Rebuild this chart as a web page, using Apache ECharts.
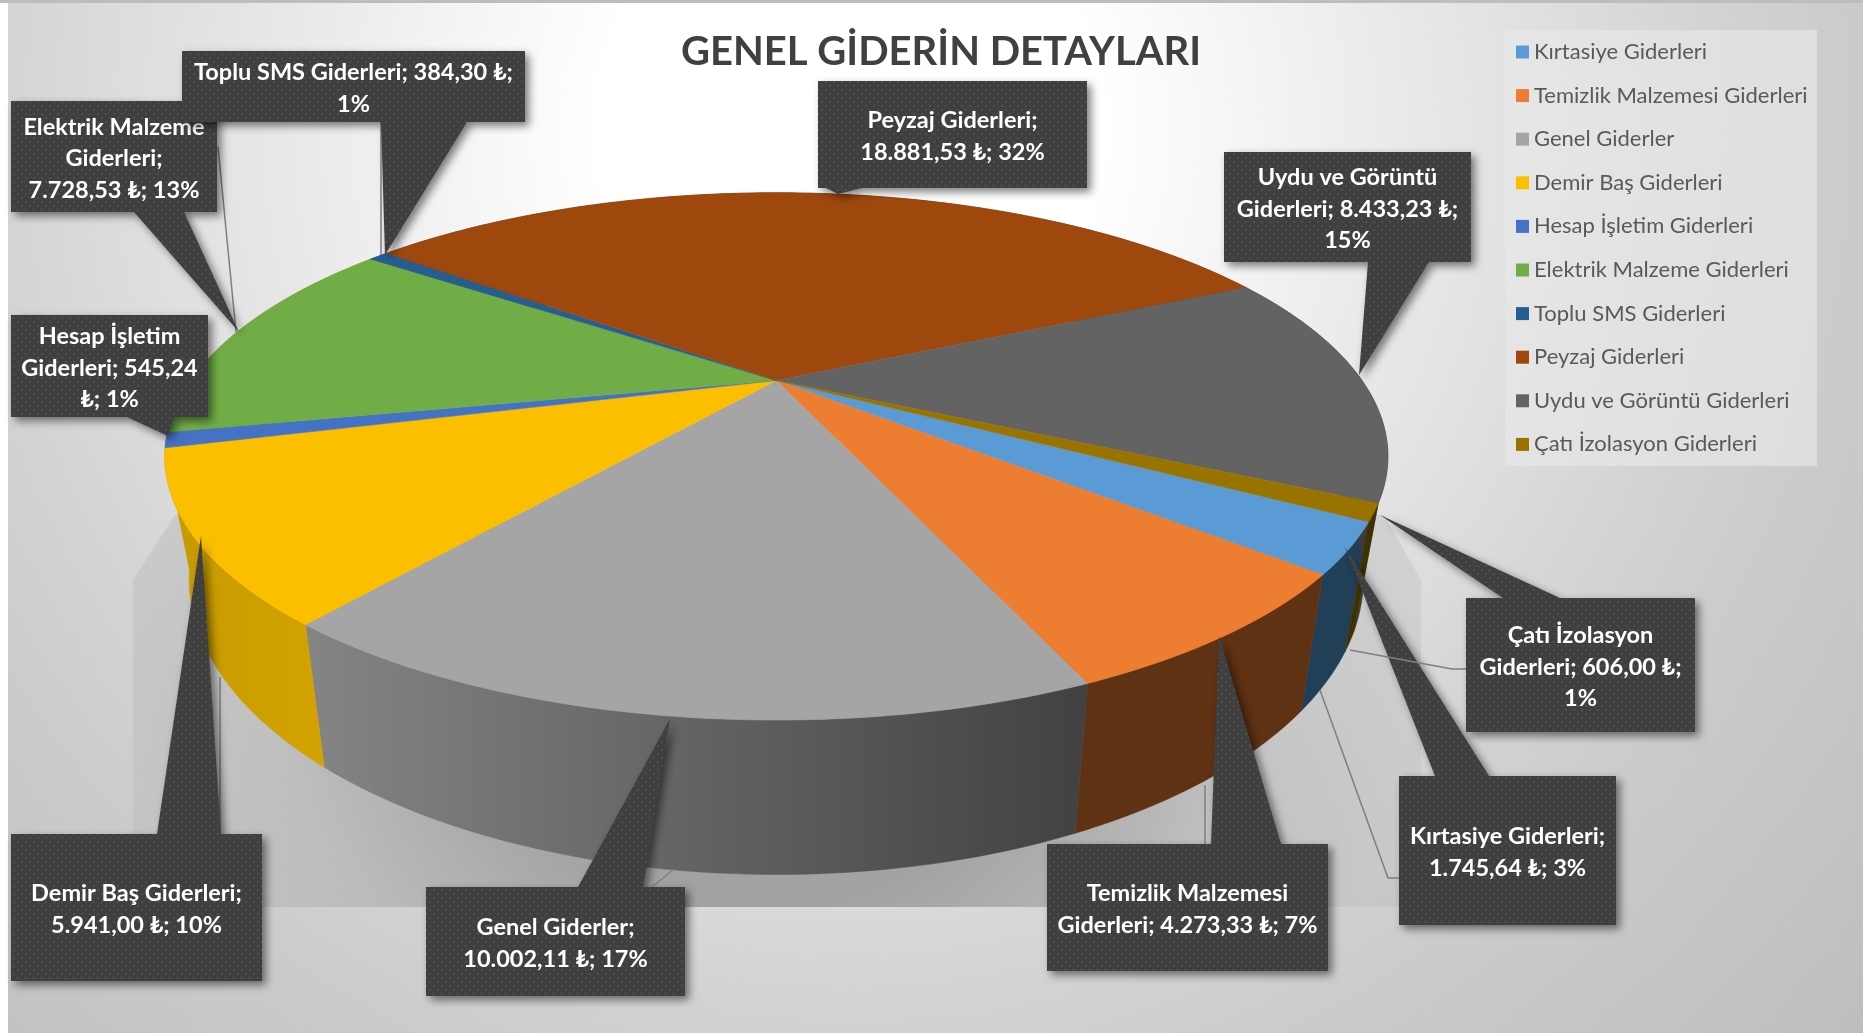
<!DOCTYPE html>
<html><head><meta charset="utf-8">
<style>html,body{margin:0;padding:0;background:#fff}#c{width:1863px;height:1033px}</style>
<script src="https://cdn.jsdelivr.net/npm/echarts@6/dist/echarts.min.js"></script>
</head><body><div id="c"></div>
<script>
const categories = ['Kırtasiye Giderleri','Temizlik Malzemesi Giderleri','Genel Giderler','Demir Baş Giderleri','Hesap İşletim Giderleri','Elektrik Malzeme Giderleri','Toplu SMS Giderleri','Peyzaj Giderleri','Uydu ve Görüntü Giderleri','Çatı İzolasyon Giderleri'];
const values = [1745.64,4273.33,10002.11,5941.00,545.24,7728.53,384.30,18881.53,8433.23,606.00];
const labelTexts = [
 'Kırtasiye Giderleri;\n1.745,64 ₺; 3%',
 'Temizlik Malzemesi\nGiderleri; 4.273,33 ₺; 7%',
 'Genel Giderler;\n10.002,11 ₺; 17%',
 'Demir Baş Giderleri;\n5.941,00 ₺; 10%',
 'Hesap İşletim\nGiderleri; 545,24\n₺; 1%',
 'Elektrik Malzeme\nGiderleri;\n7.728,53 ₺; 13%',
 'Toplu SMS Giderleri; 384,30 ₺;\n1%',
 'Peyzaj Giderleri;\n18.881,53 ₺; 32%',
 'Uydu ve Görüntü\nGiderleri; 8.433,23 ₺;\n15%',
 'Çatı İzolasyon\nGiderleri; 606,00 ₺;\n1%'
];
const titleText = 'GENEL GİDERİN DETAYLARI';
// styles
const topColors = ['#5b9bd5','#ed7d31','#a5a5a5','#fcbf00','#4472c4','#70ad47','#255e91','#9e480e','#636363','#997300'];
const wallColors = ['#223f58','#5f3213',
 {type:'linear',x:300,y:0,x2:1090,y2:0,global:true,colorStops:[{offset:0,color:'#858585'},{offset:1,color:'#414141'}]},
 {type:'linear',x:170,y:0,x2:330,y2:0,global:true,colorStops:[{offset:0,color:'#c79a00'},{offset:1,color:'#d3a300'}]},
 '#c79a00','#c79a00','#173857','#5f2b08','#3c3c3c','#3f3200'];
// layout: perspective disc
const apex = {x:776.3,y:380.5}, S = 585.7, A = 241.8, K = -0.288, START = 30;
const wallX = 0.96, wallY = 1.124, wallDy = 112.3;
// layout: callouts  [x0,y0,x1,y1], tail [[bx0,by],[bx1,by],[tipx,tipy]], leader points
const boxes = [[1399,776,1616,925],[1047,844,1328,971],[426,887,685,996],[11,834,262,981],[11,315,208,417],[11,101,217,212],[182,51,525,122],[818,81,1087,188],[1224,152,1471,262],[1466,598,1695,732]];
const tails = [
 [[1435,776],[1489,776],[1345,547]],
 [[1211,844],[1281,844],[1219,636]],
 [[578,887],[643,887],[670,719]],
 [[157,834],[221,834],[201,536]],
 [[127,417],[174,417],[168,436]],
 [[134,212],[184,212],[239,332]],
 [[381,122],[467,122],[385,255]],
 [[826,188],[862,188],[838,194]],
 [[1368,262],[1429,262],[1359,375]],
 [[1503,598],[1560,598],[1380,515]]
];
const leaders = [
 [[1320,690],[1388,878],[1399,878]],
 [[1205,785],[1205,844]],
 [[673,870],[652,887]],
 [[220,677],[220,834]],
 [],
 [[218,147],[236,332]],
 [[381,122],[381,255]],
 [],
 [],
 [[1350,650],[1452,669],[1466,669]]
];

const total = values.reduce((a,b)=>a+b,0);
const cum = []; values.reduce((a,v,i)=>(cum[i]=a,a+v),0);
function proj(deg,r){
  const t=deg*Math.PI/180,u=r*Math.cos(t),v=r*Math.sin(t),d=1+K*v;
  return [S*u/d,A*v/d];
}
const topPt=(deg)=>{const p=proj(deg,1);return [apex.x+p[0],apex.y+p[1]];};
const botPt=(deg)=>{const p=proj(deg,1);return [apex.x+wallX*p[0],apex.y+wallY*p[1]+wallDy];};
function sweep(i){const a=START+cum[i]/total*360;return [a,a+values[i]/total*360];}
function arc(fn,a,b){const pts=[];const n=Math.max(2,Math.ceil((b-a)));for(let j=0;j<=n;j++)pts.push(fn(a+(b-a)*j/n));return pts;}

const tile=document.createElement('canvas');tile.width=8;tile.height=8;
(function(){const g=tile.getContext('2d');g.fillStyle='#3f3f3f';g.fillRect(0,0,8,8);g.fillStyle='#4e4e4e';g.fillRect(1,1,2,2);g.fillRect(5,5,2,2);})();
const font='Lato, Carlito, "Open Sans", sans-serif';

const series=[];
series.push({type:'custom',name:'__walls',coordinateSystem:'none',silent:true,z:2,
  data:values.map((v,i)=>[i,v]),
  renderItem:(p,api)=>{
    const i=api.value(0),[a,b]=sweep(i);
    const pts=arc(topPt,a,b).concat(arc(botPt,a,b).reverse());
    return {type:'polygon',shape:{points:pts},style:{fill:wallColors[i],stroke:wallColors[i],lineWidth:0.5}};
  }});
categories.forEach((name,i)=>{
  series.push({type:'custom',name,coordinateSystem:'none',silent:true,z:3,
    itemStyle:{color:topColors[i]},
    data:[[i,values[i]]],
    renderItem:(p,api)=>{
      const k=api.value(0),[a,b]=sweep(k);
      const pts=[[apex.x,apex.y]].concat(arc(topPt,a,b));
      return {type:'polygon',shape:{points:pts},style:{fill:topColors[k],stroke:topColors[k],lineWidth:0.5}};
    }});
});
series.push({type:'custom',name:'__labels',coordinateSystem:'none',silent:true,z:5,
  data:values.map((v,i)=>[i,v]),
  renderItem:(p,api)=>{
    const i=api.value(0),r=boxes[i],t=tails[i];
    let outline;
    if(t[2][1]<r[1]) outline=[[r[0],r[1]],t[0],t[2],t[1],[r[2],r[1]],[r[2],r[3]],[r[0],r[3]]];
    else outline=[[r[0],r[1]],[r[2],r[1]],[r[2],r[3]],t[1],t[2],t[0],[r[0],r[3]]];
    const kids=[];
    if(leaders[i].length) kids.push({type:'polyline',shape:{points:leaders[i]},style:{fill:'none',stroke:'#7f7f7f',lineWidth:1.5}});
    kids.push({type:'polygon',shape:{points:outline},style:{fill:{image:tile,repeat:'repeat'},shadowBlur:8,shadowOffsetX:4,shadowOffsetY:4,shadowColor:'rgba(0,0,0,0.5)'}});
    kids.push({type:'text',style:{text:labelTexts[i],x:(r[0]+r[2])/2,y:(r[1]+r[3])/2+2,align:'center',verticalAlign:'middle',fill:'#fff',font:'bold 23.5px '+font,lineHeight:31.5}});
    return {type:'group',children:kids};
  }});

const chart=echarts.init(document.getElementById('c'),null,{renderer:'canvas'});
chart.setOption({
  animation:false,
  backgroundColor:'#ffffff',
  title:{text:titleText,left:936,top:27,textAlign:'center',textStyle:{fontFamily:font,fontWeight:'bold',fontSize:40,color:'#404040'}},
  legend:{
    data:categories,orient:'vertical',left:1516,top:41,
    padding:0,itemWidth:13,itemHeight:13,itemGap:21.6,icon:'rect',selectedMode:false,
    textStyle:{fontFamily:font,fontSize:22,color:'#595959',height:22,lineHeight:22}
  },
  graphic:{elements:[
    {type:'rect',silent:true,z:-10,shape:{x:8,y:3,width:1855,height:1030},
     style:{fill:{type:'radial',x:850,y:130,r:1400,global:true,colorStops:[{offset:0,color:'#ffffff'},{offset:0.18,color:'#ffffff'},{offset:0.62,color:'#d3d3d3'},{offset:0.72,color:'#cbcbcb'},{offset:1,color:'#bcbcbc'}]}}},
    {type:'rect',silent:true,z:-10,shape:{x:0,y:0,width:1863,height:3},style:{fill:'#bdbdbd'}},
    {type:'polygon',silent:true,z:-9,shape:{points:[[133,580],[175,515],[1384,515],[1421,580],[1421,907],[133,907]]},
     style:{fill:{type:'radial',x:776,y:560,r:680,global:true,colorStops:[{offset:0,color:'rgba(0,0,0,0.3)'},{offset:0.5,color:'rgba(0,0,0,0.26)'},{offset:0.78,color:'rgba(0,0,0,0.1)'},{offset:1,color:'rgba(0,0,0,0.04)'}]}}},
    {type:'rect',silent:true,z:-8,shape:{x:1505,y:30,width:312,height:436},style:{fill:'rgba(232,232,232,0.65)'}}
  ]},
  series
});
</script></body></html>
